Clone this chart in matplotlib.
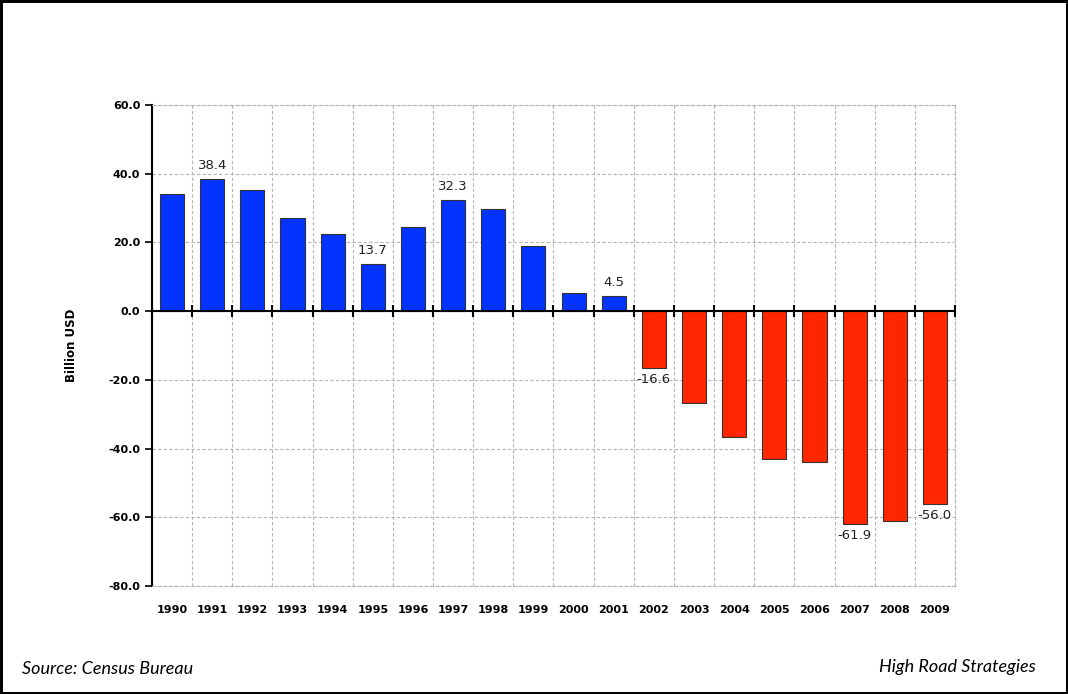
import numpy as np
import matplotlib.pyplot as plt

years = [str(y) for y in range(1990, 2010)]
values = [34.2, 38.4, 35.3, 27.1, 22.6, 13.7, 24.6, 32.3, 29.7, 19.1,
          5.2, 4.5, -16.6, -26.8, -36.7, -43.1, -43.9, -61.9, -61.1, -56.0]
labelled = ['1991', '1995', '1997', '2001', '2002', '2007', '2009']
yticks = [60, 40, 20, 0, -20, -40, -60, -80]

fig = plt.figure(figsize=(10.68, 6.94), dpi=100)
fig.patch.set_edgecolor('black')
fig.patch.set_linewidth(2.5)
ax = fig.add_axes([0.1423, 0.1556, 0.7519, 0.6931])

x = np.arange(len(years))
colors = ['#0433FF' if v >= 0 else '#FF2600' for v in values]
ax.bar(x, values, width=0.6, color=colors, edgecolor='#333333', linewidth=0.8, zorder=3)

for xi, yr, v in zip(x, years, values):
    if yr in labelled:
        if v >= 0:
            ax.text(xi, v + 2.0, f'{v:.1f}', ha='center', va='bottom', fontsize=9.5, color='#222222')
        else:
            ax.text(xi, v - 1.5, f'{v:.1f}', ha='center', va='top', fontsize=9.5, color='#222222')

ax.set_xlim(-0.5, len(years) - 0.5)
ax.set_ylim(-80, 60)

# category labels, grid at the boundaries
ax.set_xticks(x)
ax.set_xticklabels(years, fontsize=8, fontweight='bold')
bounds = np.arange(len(years) + 1) - 0.5
ax.set_xticks(bounds, minor=True)
ax.tick_params(axis='x', which='both', length=0, pad=14)
dash = (0, (3, 2))
ax.grid(axis='x', which='minor', color='#b5b5b5', linestyle=dash, linewidth=0.8)
ax.grid(axis='y', which='major', color='#b5b5b5', linestyle=dash, linewidth=0.8)
ax.set_axisbelow(True)

ax.set_yticks(yticks)
ax.set_yticklabels([f'{t:.1f}' for t in yticks], fontsize=8, fontweight='bold')
ax.tick_params(axis='y', length=5, width=1.2, direction='out', color='black')
ax.set_ylabel('Billion USD', fontsize=8.5, fontweight='bold', labelpad=22)

# zero line with ticks between categories
ax.axhline(0, color='black', linewidth=1.5, zorder=4)
ax.plot(bounds, np.zeros(len(bounds)), linestyle='none', marker='|', markersize=8,
        markeredgewidth=1.5, color='black', zorder=4, clip_on=False)

for side in ['top', 'right', 'bottom']:
    ax.spines[side].set_linestyle(dash)
    ax.spines[side].set_color('#b5b5b5')
    ax.spines[side].set_linewidth(0.8)
ax.spines['left'].set_color('black')
ax.spines['left'].set_linewidth(1.5)

fig.text(22 / 1068, 1 - 669 / 694, 'Source: Census Bureau', fontsize=13, style='italic',
         family='Lato', va='center', ha='left')
fig.text(1036 / 1068, 1 - 667 / 694, 'High Road Strategies', fontsize=13, style='italic',
         family='Lato', va='center', ha='right')

fig.savefig('out.png', dpi=100, edgecolor=fig.get_edgecolor())
